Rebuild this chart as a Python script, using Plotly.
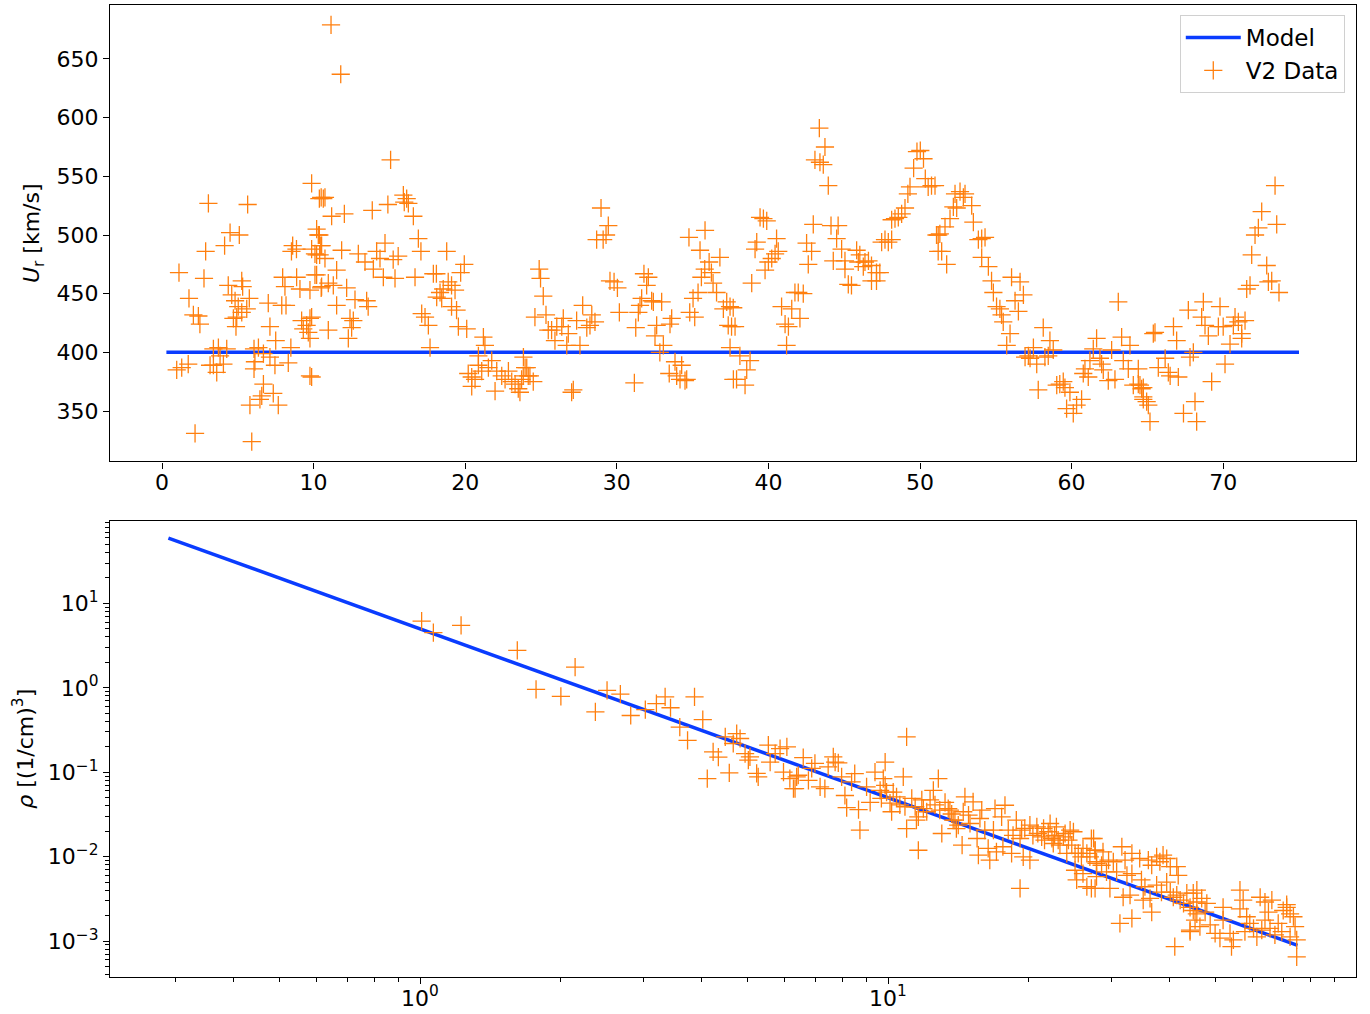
import plotly.graph_objects as go
from plotly.subplots import make_subplots

# ---- Voyager 2 solar-wind speed, U_r [km/s] vs heliocentric distance r [AU] ----
speed_r = [
    9.87, 3.06, 5.65, 4.49, 5.1, 2.88, 4.13, 1.12, 2.77, 1.78, 2.07, 2.4, 2.5, 4.37, 5.26, 5.32, 4.6, 4.82, 5.03, 5.76,
    5.59, 5.26, 4.93, 4.71, 4.88, 7.01, 7.9, 8.18, 7.12, 7.5, 8.5, 9.87, 10.09, 10.4, 10.2, 10.38, 10.47, 10.64, 10.38, 8.62,
    8.87, 8.54, 7.96, 8.88, 8.11, 9.1, 9.76, 10.2, 10.5, 9.21, 9.54, 9.76, 9.65, 9.32, 9.76, 9.87, 9.76, 9.87, 0.97, 1.3,
    1.73, 3.17, 3.39, 3.61, 4.05, 3.83, 3.39, 3.72, 4.27, 6.07, 6.36, 6.69, 7.12, 7.45, 6.13, 6.07, 8.33, 6.69, 6.58, 6.46,
    7.34, 5.8, 7.67, 2.18, 5.92,
    11.15, 11.79, 15.08, 10.5, 10.75, 11.19, 12.03, 13.87, 14.9, 15.92, 16.14, 16.25, 15.98, 16.58, 16.91, 17.08, 18.78,
    19.94, 19.7, 10.31, 10.53, 10.2, 10.75, 11.85, 12.95, 13.39, 14.16, 14.38, 14.71, 15.25, 15.58, 11.52, 13.94, 14.6,
    15.37, 16.69, 17.9, 18.1, 10.09, 10.53, 10.97, 11.3, 12.18, 12.73, 13.5, 13.6, 11.52, 12.4, 12.62, 12.51, 10.97, 12.29,
    18.34, 18.45, 18.55, 18.88, 19.1, 19.33, 19.1, 19.43, 18.12, 17.13, 17.35, 17.57, 17.68, 19.55, 20.1, 21.2, 21.3,
    20.87, 23.84, 23.95, 20.2, 20.43, 20.65, 20.43, 20.87, 21.09, 21.53, 21.75, 22.08, 22.41, 21.97, 22.63, 22.85, 23.07,
    23.29, 23.5, 23.72, 24.16,
    24.06, 23.83, 24.27, 24.49, 23.61, 24.6, 24.88, 24.97, 25.15, 25.33, 25.48, 25.7, 26.04, 26.37, 26.47, 25.92, 26.7,
    26.8, 27.02, 27.13, 27.35, 27.75, 27.57, 28.02, 28.35, 28.23, 28.56, 28.96, 29.44, 29.29, 28.67, 29.1, 29.55, 29.82,
    30.04, 30.17, 31.16, 31.25, 31.42, 31.53, 31.64, 31.79, 32.08, 31.97, 32.3, 32.41, 32.96, 32.52, 32.63, 32.84, 33.07,
    33.62, 33.51, 33.46, 33.84, 33.95, 34.28, 34.17, 34.5, 34.61, 34.76, 35.49, 35.82, 35.03, 34.81, 35.14, 35.36, 35.58,
    35.8, 36.09, 36.24, 36.35, 36.58, 36.8, 37.03, 37.25, 37.47, 37.35, 37.57, 37.47, 37.69,
    37.68, 37.8, 38.12, 38.79, 38.57, 37.9, 38.46, 38.9, 39.12, 39.23, 39.78, 40.0, 40.22, 40.44, 40.54, 40.65, 39.45,
    39.67, 39.89, 40.87, 41.1, 41.32, 41.54, 41.75, 41.97, 42.3, 42.08, 41.2, 42.52, 42.85, 42.63, 42.96, 43.36, 43.73,
    43.07, 43.4, 43.62, 43.95, 44.13, 44.6, 44.5, 44.83, 44.28, 45.05, 45.05, 45.27, 45.48, 45.82, 46.03, 45.93, 46.37,
    46.6, 46.8, 46.26, 47.13, 47.35, 46.8, 47.13, 47.47, 47.69, 47.91, 48.13, 48.13, 48.35, 48.57, 48.79, 49.01, 49.2,
    49.34, 49.58, 49.8, 50.02, 50.23, 50.35, 50.54, 50.76, 50.99, 51.09, 51.2, 51.2,
    51.31, 51.65, 51.98, 52.2, 52.42, 52.31, 52.64, 52.86, 52.97, 53.41, 53.52, 51.43, 51.76, 53.85, 54.07, 54.29, 54.07,
    54.51, 54.72, 54.84, 55.05, 55.27, 55.38, 55.49, 55.94, 55.72, 56.04, 56.6, 56.82, 56.27, 56.49, 56.93, 57.15, 57.26,
    57.48, 57.7, 57.8, 58.13, 58.24, 58.46, 58.57, 58.79, 59.02, 59.22, 59.45, 59.56, 59.89, 59.67, 60.11, 60.33, 60.66,
    60.77, 60.88, 61.1, 61.21, 61.43, 61.65, 61.87, 61.98, 62.09, 62.42, 62.64, 62.86, 63.08, 63.3, 63.41, 63.74, 63.85,
    64.07, 64.4, 64.51, 64.62, 64.73,
    64.4, 64.73, 64.73, 64.95, 65.06, 65.17, 65.39, 65.5, 65.72, 66.17, 66.38, 66.5, 66.72, 66.93, 67.04, 67.38, 67.7,
    67.81, 68.03, 68.14, 68.25, 68.58, 68.69, 68.8, 69.02, 69.24, 69.68, 69.79, 70.0, 70.12, 70.45, 70.67, 70.78, 71.0,
    71.22, 71.22, 71.44, 71.55, 71.77, 71.88, 72.1, 72.32, 72.54, 72.87, 72.98, 73.2, 73.42, 73.53, 73.68,
]
speed_u = [
    544, 527, 526, 502, 500, 486, 491, 468, 463, 446, 432, 431, 424, 457, 461, 456, 449, 444, 439, 446,
    437, 434, 430, 429, 422, 442, 440, 440, 422, 410, 404, 488, 484, 483, 505, 500, 491, 531, 531, 491,
    488, 486, 464, 464, 456, 454, 453, 466, 455, 427, 423, 429, 417, 420, 412, 430, 380, 379, 385, 387,
    390, 389, 389, 383, 390, 397, 403, 404, 403, 403, 404, 399, 396, 389, 392, 386, 391, 373, 363, 360,
    365, 355, 355, 331, 324,
    679, 637, 564, 532, 532, 516, 518, 521, 526, 534, 531, 527, 528, 516, 497, 486, 486,
    475, 468, 500, 491, 483, 480, 487, 484, 477, 486, 480, 493, 479, 482, 470, 471, 464,
    463, 464, 467, 467, 466, 456, 459, 457, 455, 445, 444, 439, 440, 429, 427, 421, 419, 412,
    451, 446, 454, 460, 457, 453, 439, 436, 447, 433, 430, 423, 404, 422, 420, 413, 406,
    397, 396, 387, 382, 379, 377, 371, 389, 384, 387, 393, 384, 380, 367, 377, 384, 375,
    373, 369, 377, 380,
    387, 380, 380, 375, 366, 430, 471, 463, 448, 432, 419, 419, 422, 422, 429, 410, 406,
    416, 366, 368, 427, 440, 406, 421, 432, 423, 426, 523, 508, 500, 496, 496, 461, 460,
    455, 434, 374, 421, 434, 440, 446, 467, 464, 457, 444, 443, 443, 414, 423, 400, 406,
    429, 424, 382, 392, 380, 389, 377, 376, 377, 498, 487, 504, 446, 434, 430, 451, 464,
    471, 477, 468, 459, 451, 481, 437, 443, 439, 423, 422, 404, 377,
    438, 422, 397, 393, 385, 377, 372, 459, 488, 494, 470, 477, 480, 484, 497, 486, 515,
    514, 512, 439, 424, 422, 437, 451, 451, 450, 429, 406, 493, 486, 475, 509, 591, 575,
    564, 562, 560, 542, 508, 508, 497, 488, 478, 478, 471, 458, 457, 487, 483, 477, 477,
    478, 474, 473, 468, 468, 461, 461, 494, 496, 494, 496, 513, 514, 515, 518, 523, 535,
    541, 557, 571, 572, 565, 548, 541, 542, 542, 500, 500, 486,
    501, 507, 514, 524, 523, 535, 537, 532, 535, 525, 511, 486, 475, 496, 497, 498, 481,
    473, 461, 451, 439, 437, 432, 426, 416, 406, 464, 460, 449, 444, 435, 396, 397, 395,
    404, 390, 368, 421, 396, 397, 410, 402, 372, 373, 375, 370, 366, 352, 348, 355, 360,
    382, 386, 379, 393, 403, 412, 395, 390, 385, 376, 402, 377, 443, 413, 393, 386, 406,
    372, 386, 372, 369, 360,
    373, 370, 362, 358, 355, 341, 416, 417, 387, 395, 383, 380, 422, 410, 379, 348, 436,
    396, 400, 358, 341, 430, 443, 423, 414, 375, 422, 439, 422, 390, 407, 423, 430, 426,
    416, 412, 427, 454, 457, 483, 500, 506, 520, 474, 460, 461, 542, 509, 451,
]

# ---- Voyager 2 proton density rho [(1/cm)^3] vs r [AU] ----
dens_r = [
    1.008, 1.068, 1.224, 1.614, 2.145, 1.77, 2.0, 2.37, 2.51, 2.68, 2.82, 3.03, 3.2, 3.34, 3.43, 3.86, 4.02, 3.59, 3.73,
    4.11, 4.23, 4.34, 4.49, 4.67, 4.75, 4.83, 4.58, 4.95, 5.03, 5.07, 5.24, 5.28, 5.55, 5.88, 6.08, 5.74, 5.6, 5.98,
    6.17, 6.28, 6.38,
    6.59, 6.98, 6.87, 7.45, 7.64, 7.83, 7.71, 6.43, 6.76, 6.33, 7.16, 7.33, 7.96, 8.49, 8.36, 8.09, 8.16, 8.65, 8.71,
    9.0, 9.16, 9.38, 9.62, 9.77, 9.86, 9.68, 9.93, 10.1, 10.18, 10.26, 10.43, 10.6, 10.78, 10.87, 10.96, 9.86, 11.24,
    11.43, 11.61, 11.81, 11.9, 12.1, 12.3, 12.5, 12.81, 12.6, 12.9, 13.24, 13.45, 13.68, 13.9, 14.13, 10.96, 11.5, 11.61,
    13.03,
    13.56, 13.78, 14.0, 14.6, 15.2, 14.48, 14.86, 14.97, 15.86, 15.72, 15.5, 14.4, 15.6, 16.5, 16.37, 17.05, 16.93, 17.49,
    17.78, 16.1, 16.8, 17.6, 18.07, 18.5, 18.37, 18.8, 19.15, 19.3, 19.45, 20.1, 19.15, 19.6, 20.1, 20.4, 20.8, 20.9,
    21.3, 21.5, 21.6, 22.0, 22.2, 22.4, 22.55, 22.7, 22.9, 23.1, 23.3, 23.7, 23.9, 24.3, 24.5, 24.7, 24.9, 24.1, 25.1,
    25.5, 25.9, 26.1, 26.6, 27.0, 27.2, 27.7, 27.9, 25.1, 25.3, 26.1, 26.6, 27.2, 27.9,
    27.5, 27.7, 28.8, 27.9, 28.6, 29.6, 30.3, 31.6, 33.2, 32.1, 27.7, 29.8, 29.3, 30.8, 32.4, 33.2, 31.8, 32.9, 31.3,
    33.2, 34.5, 34.8, 35.4, 36.0, 36.6, 37.5, 38.1, 38.7, 39.4, 40.1, 41.4, 41.7, 35.1, 36.3, 36.6, 37.5, 38.4, 39.4,
    40.1, 40.7, 41.4, 42.1, 42.8, 43.5, 44.2, 44.9, 45.7, 44.2, 41.0, 45.7,
    44.9, 45.7, 46.8, 48.0, 47.6, 45.3, 44.2, 46.4, 48.8, 50.0, 51.2, 52.0, 52.0, 53.8, 54.7, 54.2, 56.5, 57.4, 56.5,
    58.4, 59.3, 57.9, 60.4, 61.4, 62.4, 63.9, 66.1, 65.0, 63.9, 62.9, 65.5, 67.1, 68.2, 69.9, 71.1, 72.3, 73.5, 74.1,
    72.3, 74.7, 74.7, 71.1, 69.4,
]
dens_rho = [
    6.17, 4.5, 5.5, 2.78, 1.76, 0.96, 0.79, 0.52, 0.93, 0.84, 0.47, 0.55, 0.65, 0.78, 0.58, 0.78, 0.42, 0.343, 0.239,
    0.084, 0.174, 0.151, 0.262, 0.219, 0.287, 0.251, 0.098, 0.166, 0.139, 0.152, 0.097, 0.088, 0.209, 0.19, 0.2, 0.166,
    0.132, 0.1, 0.084, 0.064, 0.088,
    0.149, 0.127, 0.111, 0.116, 0.152, 0.129, 0.132, 0.092, 0.08, 0.064, 0.067, 0.064, 0.088, 0.096, 0.077, 0.053, 0.038,
    0.036, 0.0206, 0.067, 0.044, 0.1, 0.061, 0.084, 0.07, 0.049, 0.058, 0.043, 0.034, 0.058, 0.051, 0.041, 0.088, 0.039,
    0.262, 0.132, 0.049, 0.039, 0.0296, 0.047, 0.037, 0.034, 0.047, 0.061, 0.084, 0.041, 0.0355, 0.044, 0.037, 0.032,
    0.027, 0.0236, 0.0215, 0.027, 0.0119, 0.0188,
    0.0355, 0.027, 0.0215, 0.051, 0.0446, 0.034, 0.031, 0.0247, 0.0355, 0.0283, 0.0164, 0.0137, 0.0104, 0.0091, 0.0125,
    0.0114, 0.037, 0.0295, 0.0406, 0.0206, 0.0206, 0.0131, 0.0206, 0.0179, 0.0109, 0.027, 0.0164, 0.0206, 0.00995,
    0.0091, 0.0042, 0.0216, 0.0236, 0.0179, 0.0225, 0.0188, 0.0171, 0.0216, 0.0157, 0.0197, 0.0247, 0.0164, 0.0143,
    0.0179, 0.0225, 0.0157, 0.0137, 0.0171, 0.0188, 0.0157, 0.0206, 0.0137, 0.0197, 0.0109, 0.0109, 0.0109, 0.00995,
    0.0125, 0.0109, 0.00995, 0.0164, 0.0119, 0.0083, 0.0069, 0.0053, 0.0063, 0.0044, 0.0042, 0.0058,
    0.0164, 0.0119, 0.0114, 0.0087, 0.0079, 0.0091, 0.0087, 0.0131, 0.0109, 0.0091, 0.0042, 0.0042, 0.0066, 0.0066,
    0.006, 0.0063, 0.0033, 0.0035, 0.00162, 0.00186, 0.0095, 0.0053, 0.0044, 0.0091, 0.0079, 0.00995, 0.0087, 0.0104,
    0.0095, 0.0076, 0.0076, 0.006, 0.00305, 0.0032, 0.0022, 0.0046, 0.0038, 0.005, 0.0038, 0.0033, 0.0035, 0.00305,
    0.0028, 0.0037, 0.0025, 0.0023, 0.0021, 0.00129, 0.00086, 0.004,
    0.0037, 0.0029, 0.0032, 0.0028, 0.0022, 0.00177, 0.00135, 0.00148, 0.00155, 0.00123, 0.00108, 0.0025, 0.00177,
    0.00123, 0.00103, 0.00086, 0.004, 0.00305, 0.0024, 0.00194, 0.00162, 0.00129, 0.00141, 0.00112, 0.0033, 0.0029,
    0.00305, 0.0022, 0.00177, 0.00135, 0.00141, 0.00118, 0.00162, 0.0023, 0.0027, 0.0021, 0.00194, 0.00148, 0.00112,
    0.00103, 0.00065, 0.0025, 0.00129,
]

# ---- model: constant radial speed and rho ~ r^-2 ----
model_r = [0.29, 75.0]
model_speed = 400.0          # km/s
model_rho_1au = 5.0          # (1/cm)^3 at 1 AU
model_u = [model_speed for _ in model_r]
model_rho = [model_rho_1au * r ** -2 for r in model_r]

BLUE = "#0a3cff"
ORANGE = "#ff7f0e"
FONT = "DejaVu Sans"
TICK_SIZE = 22
TITLE_SIZE = 22

fig = make_subplots(rows=2, cols=1, vertical_spacing=0.0607)

marker = dict(symbol="cross-thin", size=13, color=ORANGE, line=dict(color=ORANGE, width=1.3))

fig.add_trace(go.Scatter(x=model_r, y=model_u, mode="lines", name="Model",
                         line=dict(color=BLUE, width=3.5)), row=1, col=1)
fig.add_trace(go.Scatter(x=speed_r, y=speed_u, mode="markers", name="V2 Data",
                         marker=marker), row=1, col=1)
fig.add_trace(go.Scatter(x=model_r, y=model_rho, mode="lines", name="Model",
                         line=dict(color=BLUE, width=3.5), showlegend=False), row=2, col=1)
fig.add_trace(go.Scatter(x=dens_r, y=dens_rho, mode="markers", name="V2 Data",
                         marker=marker, showlegend=False), row=2, col=1)

axis_common = dict(showline=True, mirror=True, linecolor="black", linewidth=1.2,
                   ticks="outside", ticklen=6, tickwidth=1.2, tickcolor="black",
                   showgrid=False, zeroline=False, automargin=False,
                   tickfont=dict(family=FONT, size=TICK_SIZE, color="black"))

fig.update_xaxes(axis_common)
fig.update_yaxes(axis_common)
fig.update_xaxes(ticklabelstandoff=-5)

# top panel: linear axes
fig.update_xaxes(range=[-3.43, 78.76], tickvals=[0, 10, 20, 30, 40, 50, 60, 70], row=1, col=1)
fig.update_yaxes(range=[307, 696], tickvals=[350, 400, 450, 500, 550, 600, 650],
                 title=dict(text="<i>U</i><sub>r</sub> [km/s]", font=dict(family=FONT, size=TITLE_SIZE), standoff=10),
                 row=1, col=1)

# bottom panel: log-log axes
x_minor = [m * 10 ** e for e in (-1, 0, 1) for m in range(2, 10) if 0.218 < m * 10 ** e < 100]
y_minor = [m * 10 ** e for e in (-4, -3, -2, -1, 0, 1) for m in range(2, 10) if 3.7e-4 < m * 10 ** e < 96]
fig.update_xaxes(type="log", range=[-0.6624, 2.0],
                 tickvals=[1, 10], ticktext=["10<sup>0</sup>", "10<sup>1</sup>"],
                 minor=dict(tickmode="array", tickvals=x_minor, ticks="outside", ticklen=3.5,
                            tickwidth=1, tickcolor="black", showgrid=False),
                 row=2, col=1)
fig.update_yaxes(type="log", range=[-3.426, 1.982],
                 tickvals=[1e-3, 1e-2, 1e-1, 1, 10],
                 ticktext=["10<sup>\u22123</sup>", "10<sup>\u22122</sup>", "10<sup>\u22121</sup>",
                           "10<sup>0</sup>", "10<sup>1</sup>"],
                 minor=dict(tickmode="array", tickvals=y_minor, ticks="outside", ticklen=3.5,
                            tickwidth=1, tickcolor="black", showgrid=False),
                 title=dict(text="<i>\u03c1</i> [(1/cm)<sup>3</sup>]", font=dict(family=FONT, size=TITLE_SIZE), standoff=8),
                 row=2, col=1)

fig.update_layout(
    width=1370, height=1014,
    margin=dict(l=110, r=14, t=5, b=37, autoexpand=False),
    paper_bgcolor="white", plot_bgcolor="white",
    font=dict(family=FONT, size=TICK_SIZE, color="black"),
    legend=dict(x=0.991, y=0.9897, xanchor="right", yanchor="top",
                bgcolor="rgba(255,255,255,0.8)", bordercolor="#d0d0d0", borderwidth=1,
                font=dict(family=FONT, size=23), itemwidth=55, tracegroupgap=4),
    showlegend=True,
)

fig.write_html("out.html")
